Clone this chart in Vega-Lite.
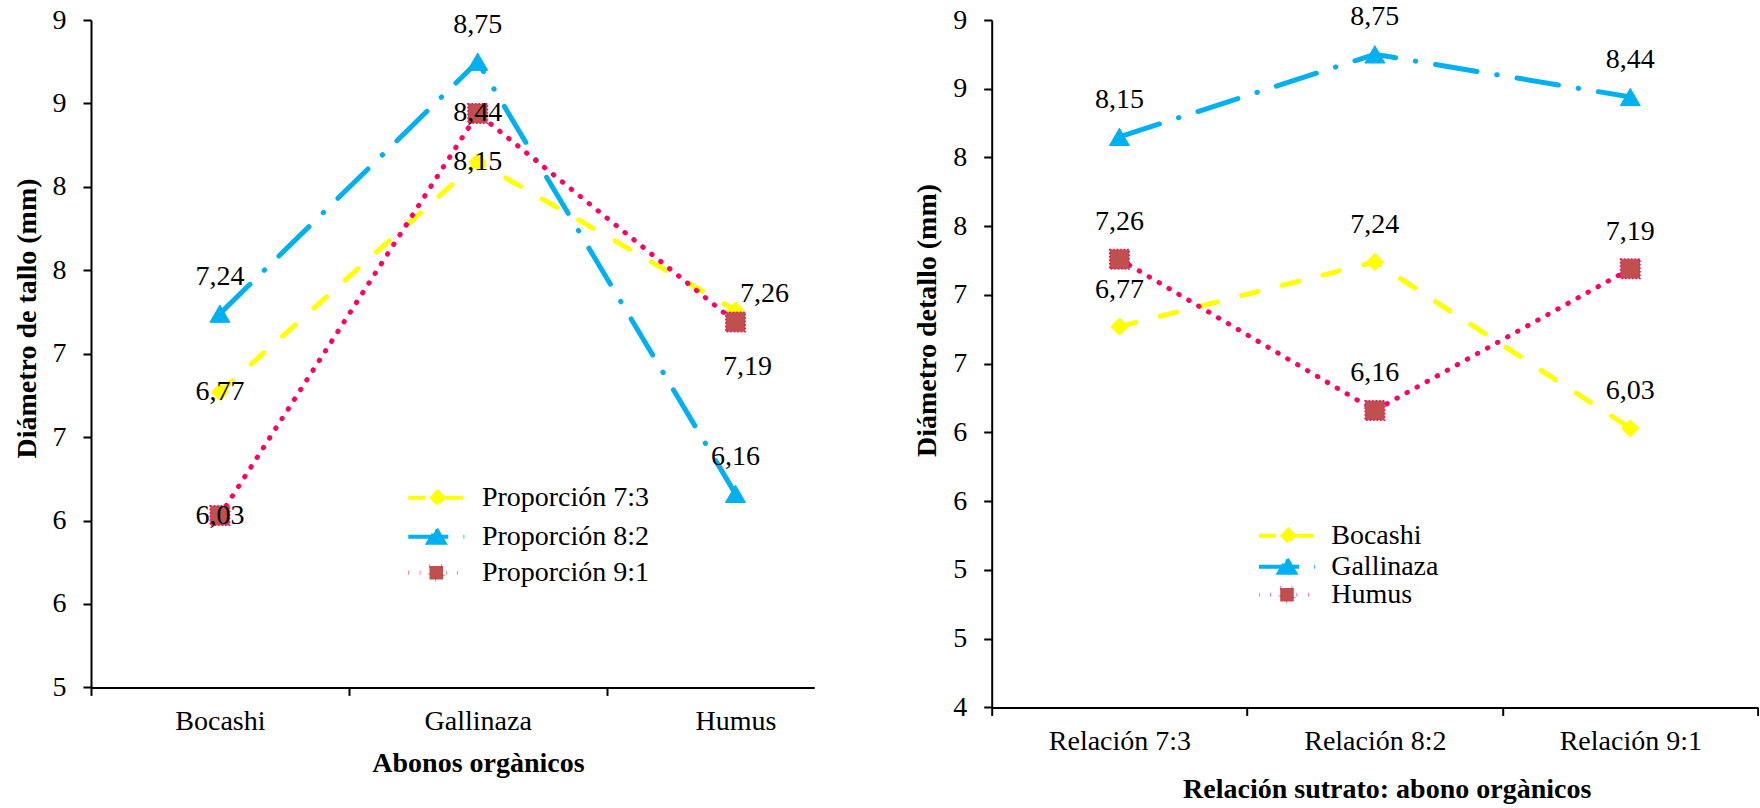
{
  "$schema": "https://vega.github.io/schema/vega-lite/v6.json",
  "padding": {"left": 13, "top": 3, "right": 0, "bottom": 0},
  "bounds": "flush",
  "spacing": 176.7,
  "resolve": {
    "scale": {"shape": "independent", "fill": "independent", "stroke": "independent", "strokeDash": "independent"},
    "legend": {"shape": "independent", "fill": "independent", "stroke": "independent", "strokeDash": "independent"}
  },
  "config": {
    "view": {"stroke": null},
    "font": "Liberation Serif",
    "locale": {"number": {"decimal": ",", "thousands": ".", "grouping": [3], "currency": ["", " €"]}},
    "axis": {
      "domainColor": "#000000", "domainWidth": 2, "tickColor": "#000000", "tickWidth": 2, "tickSize": 8,
      "labelFont": "Liberation Serif", "labelFontSize": 28, "labelColor": "#000000",
      "titleFont": "Liberation Serif", "titleFontSize": 28, "titleFontWeight": "bold", "titleColor": "#000000",
      "grid": false
    },
    "legend": {
      "padding": 0, "labelFont": "Liberation Serif", "labelFontSize": 28, "labelColor": "#000000",
      "labelLimit": 400, "symbolFillColor": "#ffffff", "symbolStrokeWidth": 4, "symbolSize": 256
    },
    "text": {"font": "Liberation Serif", "fontSize": 28, "color": "#000000"}
  },
  "datasets": {
    "tallo_proporcion": [
      {"abono": "Bocashi", "proporcion": "Proporción 7:3", "diametro": 6.77},
      {"abono": "Gallinaza", "proporcion": "Proporción 7:3", "diametro": 8.15},
      {"abono": "Humus", "proporcion": "Proporción 7:3", "diametro": 7.26},
      {"abono": "Bocashi", "proporcion": "Proporción 8:2", "diametro": 7.24},
      {"abono": "Gallinaza", "proporcion": "Proporción 8:2", "diametro": 8.75},
      {"abono": "Humus", "proporcion": "Proporción 8:2", "diametro": 6.16},
      {"abono": "Bocashi", "proporcion": "Proporción 9:1", "diametro": 6.03},
      {"abono": "Gallinaza", "proporcion": "Proporción 9:1", "diametro": 8.44},
      {"abono": "Humus", "proporcion": "Proporción 9:1", "diametro": 7.19}
    ],
    "tallo_relacion": [
      {"relacion": "Relación 7:3", "abono": "Bocashi", "diametro": 6.77},
      {"relacion": "Relación 8:2", "abono": "Bocashi", "diametro": 7.24},
      {"relacion": "Relación 9:1", "abono": "Bocashi", "diametro": 6.03},
      {"relacion": "Relación 7:3", "abono": "Gallinaza", "diametro": 8.15},
      {"relacion": "Relación 8:2", "abono": "Gallinaza", "diametro": 8.75},
      {"relacion": "Relación 9:1", "abono": "Gallinaza", "diametro": 8.44},
      {"relacion": "Relación 7:3", "abono": "Humus", "diametro": 7.26},
      {"relacion": "Relación 8:2", "abono": "Humus", "diametro": 6.16},
      {"relacion": "Relación 9:1", "abono": "Humus", "diametro": 7.19}
    ]
  },
  "hconcat": [
    {
      "width": 723.3,
      "height": 667.4,
      "data": {"name": "tallo_proporcion"},
      "encoding": {
        "x": {
          "field": "abono", "type": "nominal", "sort": ["Bocashi", "Gallinaza", "Humus"],
          "scale": {"type": "point", "padding": 0.40285, "align": 0.6206},
          "axis": {"title": "Abonos orgànicos", "tickOffset": -128.9, "labelOffset": 128.9, "labelPadding": 12, "titlePadding": 14, "titleX": 387, "labelAngle": 0}
        },
        "y": {
          "field": "diametro", "type": "quantitative",
          "scale": {"domain": [5, 9], "nice": false, "zero": false},
          "axis": {"title": "Diámetro de tallo (mm)", "values": [5, 5.5, 6, 6.5, 7, 7.5, 8, 8.5, 9], "format": ".0f", "labelPadding": 17, "titlePadding": 11, "titleY": 298}
        }
      },
      "layer": [
        {"transform": [{"filter": "datum.proporcion === 'Proporción 7:3'"}], "mark": {"type": "line", "stroke": "#FFFF00", "strokeWidth": 5, "strokeDash": [17, 25], "strokeCap": "round"}, "encoding": {}},
        {"transform": [{"filter": "datum.proporcion === 'Proporción 8:2'"}], "mark": {"type": "line", "stroke": "#00B0F0", "strokeWidth": 5, "strokeDash": [42, 20, 0.5, 20], "strokeCap": "round"}, "encoding": {}},
        {"transform": [{"filter": "datum.proporcion === 'Proporción 9:1'"}], "mark": {"type": "line", "stroke": "#FF0066", "strokeWidth": 5, "strokeDash": [0.5, 11], "strokeCap": "round"}, "encoding": {}},
        {"transform": [{"filter": "datum.proporcion === 'Proporción 7:3'"}], "mark": {"type": "point", "shape": "diamond", "size": 200, "filled": true, "fill": "#FFFF00", "stroke": "#FFFF00", "strokeWidth": 3, "strokeJoin": "round", "opacity": 1}, "encoding": {}},
        {"transform": [{"filter": "datum.proporcion === 'Proporción 8:2'"}], "mark": {"type": "point", "shape": "triangle-up", "size": 400, "filled": true, "fill": "#00B0F0", "stroke": "#00B0F0", "strokeWidth": 1, "opacity": 1}, "encoding": {}},
        {"transform": [{"filter": "datum.proporcion === 'Proporción 9:1'"}], "mark": {"type": "point", "shape": "square", "size": 380, "filled": true, "fill": "#C0504D", "stroke": "#FF0066", "strokeWidth": 1.5, "strokeDash": [1.5, 2], "opacity": 1}, "encoding": {}},
        {
          "transform": [{"filter": "false"}],
          "mark": {"type": "point", "filled": true, "opacity": 1, "strokeWidth": 4, "strokeCap": "round", "strokeJoin": "round"},
          "encoding": {
            "shape": {"field": "proporcion", "type": "nominal", "title": null,
              "scale": {"domain": ["Proporción 7:3", "Proporción 8:2", "Proporción 9:1"], "range": ["M-3.5,0H-1.2M1.2,0H3.5M0,-0.9L0.9,0L0,0.9L-0.9,0Z", "M-3.5,0H1.5M3.4,0H3.5M0,-0.95L1,0.75H-1Z", "M-3.5,0H-1.2M1.2,0H3.5M-0.85,-0.85H0.85V0.85H-0.85Z"]},
              "legend": {"orient": "none", "legendX": 331.3, "legendY": 463.7, "symbolOffset": 0, "labelOffset": 31.6, "rowPadding": 7, "title": null}},
            "fill": {"field": "proporcion", "type": "nominal", "title": null,
              "scale": {"domain": ["Proporción 7:3", "Proporción 8:2", "Proporción 9:1"], "range": ["#FFFF00", "#00B0F0", "#C0504D"]},
              "legend": {"orient": "none", "legendX": 331.3, "legendY": 463.7, "symbolOffset": 0, "labelOffset": 31.6, "rowPadding": 7, "title": null}},
            "stroke": {"field": "proporcion", "type": "nominal", "title": null,
              "scale": {"domain": ["Proporción 7:3", "Proporción 8:2", "Proporción 9:1"], "range": ["#FFFF00", "#00B0F0", "#FF0066"]},
              "legend": {"orient": "none", "legendX": 331.3, "legendY": 463.7, "symbolOffset": 0, "labelOffset": 31.6, "rowPadding": 7, "title": null}},
            "strokeDash": {"field": "proporcion", "type": "nominal", "title": null,
              "scale": {"domain": ["Proporción 7:3", "Proporción 8:2", "Proporción 9:1"], "range": [[17, 25], [42, 20, 0.5, 20], [0.5, 11]]},
              "legend": {"orient": "none", "legendX": 331.3, "legendY": 463.7, "symbolOffset": 0, "labelOffset": 31.6, "rowPadding": 7, "title": null}}
          }
        },
        {"transform": [{"filter": "datum.proporcion === 'Proporción 8:2'"}], "mark": {"type": "text", "dy": -37}, "encoding": {"text": {"field": "diametro", "type": "quantitative", "format": ".2f"}}},
        {"transform": [{"filter": "datum.proporcion !== 'Proporción 8:2' && datum.abono !== 'Humus'"}], "mark": {"type": "text"}, "encoding": {"text": {"field": "diametro", "type": "quantitative", "format": ".2f"}}},
        {"transform": [{"filter": "datum.proporcion === 'Proporción 7:3' && datum.abono === 'Humus'"}], "mark": {"type": "text", "dx": 29, "dy": -16}, "encoding": {"text": {"field": "diametro", "type": "quantitative", "format": ".2f"}}},
        {"transform": [{"filter": "datum.proporcion === 'Proporción 9:1' && datum.abono === 'Humus'"}], "mark": {"type": "text", "dx": 12, "dy": 45}, "encoding": {"text": {"field": "diametro", "type": "quantitative", "format": ".2f"}}}
      ]
    },
    {
      "width": 766.3,
      "height": 687.4,
      "data": {"name": "tallo_relacion"},
      "encoding": {
        "x": {
          "field": "relacion", "type": "nominal", "sort": ["Relación 7:3", "Relación 8:2", "Relación 9:1"],
          "bandPosition": 0.5,
          "scale": {"type": "band", "paddingInner": 0, "paddingOuter": 0},
          "axis": {"title": "Relación sutrato: abono orgànicos", "tickBand": "extent", "labelPadding": 12, "titlePadding": 20, "titleX": 395, "labelAngle": 0}
        },
        "y": {
          "field": "diametro", "type": "quantitative",
          "scale": {"domain": [4, 9], "nice": false, "zero": false},
          "axis": {"title": "Diámetro detallo (mm)", "values": [4, 4.5, 5, 5.5, 6, 6.5, 7, 7.5, 8, 8.5, 9], "format": ".0f", "labelPadding": 17, "titlePadding": 11, "titleY": 300}
        }
      },
      "layer": [
        {"transform": [{"filter": "datum.abono === 'Bocashi'"}], "mark": {"type": "line", "stroke": "#FFFF00", "strokeWidth": 5, "strokeDash": [17, 25], "strokeCap": "round"}, "encoding": {}},
        {"transform": [{"filter": "datum.abono === 'Gallinaza'"}], "mark": {"type": "line", "stroke": "#00B0F0", "strokeWidth": 5, "strokeDash": [42, 20, 0.5, 20], "strokeCap": "round"}, "encoding": {}},
        {"transform": [{"filter": "datum.abono === 'Humus'"}], "mark": {"type": "line", "stroke": "#FF0066", "strokeWidth": 5, "strokeDash": [0.5, 11], "strokeCap": "round"}, "encoding": {}},
        {"transform": [{"filter": "datum.abono === 'Bocashi'"}], "mark": {"type": "point", "shape": "diamond", "size": 200, "filled": true, "fill": "#FFFF00", "stroke": "#FFFF00", "strokeWidth": 3, "strokeJoin": "round", "opacity": 1}, "encoding": {}},
        {"transform": [{"filter": "datum.abono === 'Gallinaza'"}], "mark": {"type": "point", "shape": "triangle-up", "size": 400, "filled": true, "fill": "#00B0F0", "stroke": "#00B0F0", "strokeWidth": 1, "opacity": 1}, "encoding": {}},
        {"transform": [{"filter": "datum.abono === 'Humus'"}], "mark": {"type": "point", "shape": "square", "size": 380, "filled": true, "fill": "#C0504D", "stroke": "#FF0066", "strokeWidth": 1.5, "strokeDash": [1.5, 2], "opacity": 1}, "encoding": {}},
        {
          "transform": [{"filter": "false"}],
          "mark": {"type": "point", "filled": true, "opacity": 1, "strokeWidth": 4, "strokeCap": "round", "strokeJoin": "round"},
          "encoding": {
            "shape": {"field": "abono", "type": "nominal", "title": null,
              "scale": {"domain": ["Bocashi", "Gallinaza", "Humus"], "range": ["M-3.5,0H-1.2M1.2,0H3.5M0,-0.9L0.9,0L0,0.9L-0.9,0Z", "M-3.5,0H1.5M3.4,0H3.5M0,-0.95L1,0.75H-1Z", "M-3.5,0H-1.2M1.2,0H3.5M-0.85,-0.85H0.85V0.85H-0.85Z"]},
              "legend": {"orient": "none", "legendX": 281.3, "legendY": 501.7, "symbolOffset": 0, "labelOffset": 30.2, "rowPadding": -1, "title": null}},
            "fill": {"field": "abono", "type": "nominal", "title": null,
              "scale": {"domain": ["Bocashi", "Gallinaza", "Humus"], "range": ["#FFFF00", "#00B0F0", "#C0504D"]},
              "legend": {"orient": "none", "legendX": 281.3, "legendY": 501.7, "symbolOffset": 0, "labelOffset": 30.2, "rowPadding": -1, "title": null}},
            "stroke": {"field": "abono", "type": "nominal", "title": null,
              "scale": {"domain": ["Bocashi", "Gallinaza", "Humus"], "range": ["#FFFF00", "#00B0F0", "#FF0066"]},
              "legend": {"orient": "none", "legendX": 281.3, "legendY": 501.7, "symbolOffset": 0, "labelOffset": 30.2, "rowPadding": -1, "title": null}},
            "strokeDash": {"field": "abono", "type": "nominal", "title": null,
              "scale": {"domain": ["Bocashi", "Gallinaza", "Humus"], "range": [[17, 25], [42, 20, 0.5, 20], [0.5, 11]]},
              "legend": {"orient": "none", "legendX": 281.3, "legendY": 501.7, "symbolOffset": 0, "labelOffset": 30.2, "rowPadding": -1, "title": null}}
          }
        },
        {"mark": {"type": "text", "dy": -37}, "encoding": {"text": {"field": "diametro", "type": "quantitative", "format": ".2f"}}}
      ]
    }
  ]
}
